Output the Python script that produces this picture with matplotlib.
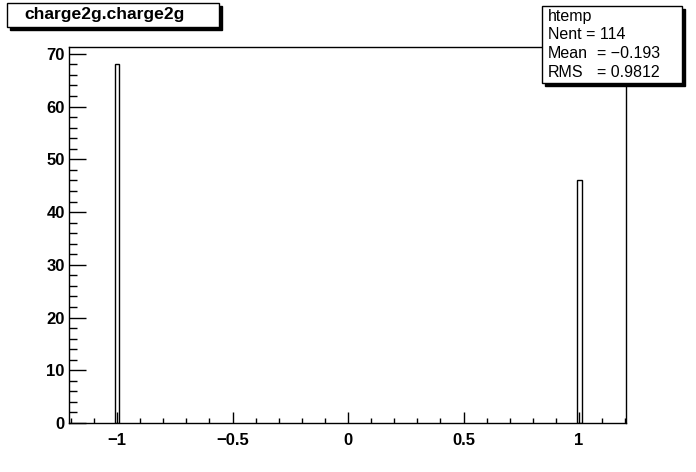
# ROOT style histogram of charge2g

import matplotlib
matplotlib.use("Agg")
import matplotlib.pyplot as plt
from matplotlib.patches import Rectangle
from matplotlib.ticker import MultipleLocator
import numpy as np

# data
bin_centers = [-1.0, 1.0]
counts = [68, 46]
hist_name = "htemp"
title_text = "charge2g.charge2g"
x_ticks = [-1, -0.5, 0, 0.5, 1]
x_tick_labels = ["\u22121", "\u22120.5", "0", "0.5", "1"]

bin_width = 0.021

# stats
n_ent = int(np.sum(counts))
mean = np.sum(np.array(bin_centers) * np.array(counts)) / n_ent
rms = np.sqrt(np.sum(np.array(counts) * (np.array(bin_centers) - mean) ** 2) / n_ent)

W, H = 696, 472
fig = plt.figure(figsize=(W / 100, H / 100), dpi=100)
plt.rcParams['font.family'] = ['Liberation Sans', 'DejaVu Sans']


def fx(px):
    return px / W


def fy(py):
    return 1 - py / H


# axes frame in pixels: left 69, right 626, top 47, bottom 423
ax = fig.add_axes([fx(69), fy(423), fx(626) - fx(69), fy(47) - fy(423)])

ax.bar(bin_centers, counts, width=bin_width, fill=False,
       edgecolor="black", linewidth=1.0, zorder=3)

ax.set_xlim(-1.208, 1.203)
ax.set_ylim(0, 71.3)

ax.set_xticks(x_ticks)
ax.set_xticklabels(x_tick_labels)
ax.xaxis.set_minor_locator(MultipleLocator(0.1))
ax.yaxis.set_major_locator(MultipleLocator(10))
ax.yaxis.set_minor_locator(MultipleLocator(2))

ax.tick_params(axis="x", which="major", direction="in", length=8, width=1,
               pad=7, top=False)
ax.tick_params(axis="x", which="minor", direction="in", length=3.6, width=1,
               top=False)
ax.tick_params(axis="y", which="major", direction="in", length=12, width=1,
               pad=3, right=False)
ax.tick_params(axis="y", which="minor", direction="in", length=5.8, width=1,
               right=False)

for lab in ax.get_xticklabels() + ax.get_yticklabels():
    lab.set_fontsize(12)
    lab.set_fontweight("bold")

for sp in ax.spines.values():
    sp.set_linewidth(1)

# title box with shadow
shadow = 3
fig.patches.append(Rectangle((fx(7 + shadow), fy(27 + shadow)), fx(212), fy(0) - fy(24),
                             transform=fig.transFigure, facecolor="black",
                             edgecolor="black", zorder=1))
fig.patches.append(Rectangle((fx(7), fy(27)), fx(212), fy(0) - fy(24),
                             transform=fig.transFigure, facecolor="white",
                             edgecolor="black", linewidth=1, zorder=2))
fig.text(fx(105), fy(15), title_text, ha="center", va="center",
         fontsize=12.6, fontweight="bold", zorder=3)

# stats box with shadow (x 542-682, y 6-83)
fig.patches.append(Rectangle((fx(542 + shadow), fy(83 + shadow)), fx(140), fy(0) - fy(77),
                             transform=fig.transFigure, facecolor="black",
                             edgecolor="black", zorder=5))
fig.patches.append(Rectangle((fx(542), fy(83)), fx(140), fy(0) - fy(77),
                             transform=fig.transFigure, facecolor="white",
                             edgecolor="black", linewidth=1, zorder=6))

stat_labels = [hist_name, "Nent = %d" % n_ent, "Mean", "RMS"]
stat_values = ["", "", "= %s" % ("%.3f" % mean).replace("-", "\u2212"),
               "= %.4f" % rms]
for i in range(4):
    y = fy(16 + i * 18.8)
    fig.text(fx(548), y, stat_labels[i], ha="left", va="center",
             fontsize=11.5, zorder=7)
    if stat_values[i]:
        fig.text(fx(597), y, stat_values[i], ha="left", va="center",
                 fontsize=11.5, zorder=7)

fig.savefig("out.png", dpi=100)
